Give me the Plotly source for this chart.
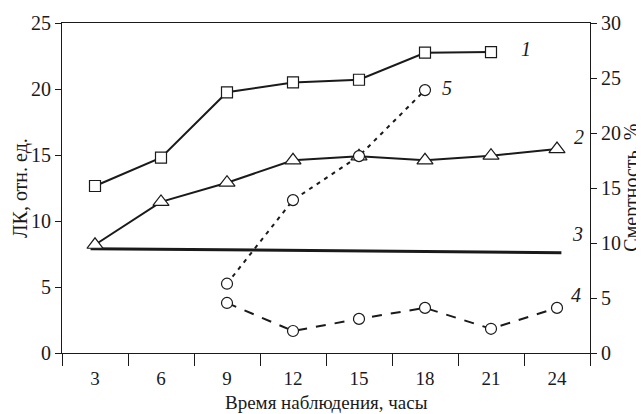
import plotly.graph_objects as go

# Data
hours_ticks = [3, 6, 9, 12, 15, 18, 21, 24]
tick_labels = ["3", "6", "9", "12", "15", "18", "21", "24"]

x1 = [3, 6, 9, 12, 15, 18, 21]
lk1 = [12.65, 14.8, 19.75, 20.5, 20.7, 22.75, 22.8]

x2 = [3, 6, 9, 12, 15, 18, 21, 24]
lk2 = [8.2, 11.45, 12.9, 14.6, 14.9, 14.6, 14.95, 15.45]

x3 = [2.8, 24.2]
lk3 = [7.9, 7.6]

x4 = [9, 12, 15, 18, 21, 24]
mort4 = [4.55, 2.0, 3.1, 4.1, 2.2, 4.1]

x5 = [9, 12, 15, 18]
mort5 = [6.3, 13.9, 17.9, 23.9]

FONT = "Liberation Serif"
INK = "#1a1a1a"
FS = 20
FSX = 19

fig = go.Figure()

fig.add_trace(go.Scatter(
    x=x3, y=lk3, mode="lines", line=dict(color=INK, width=3),
    yaxis="y", showlegend=False))

fig.add_trace(go.Scatter(
    x=x1, y=lk1, mode="lines+markers",
    line=dict(color=INK, width=2),
    marker=dict(symbol="square", size=11, color="white", line=dict(color=INK, width=1.2)),
    yaxis="y", showlegend=False))

fig.add_trace(go.Scatter(
    x=x2, y=lk2, mode="lines+markers",
    line=dict(color=INK, width=2),
    marker=dict(symbol="triangle-up", size=14, color="white", line=dict(color=INK, width=1.2)),
    yaxis="y", showlegend=False))

fig.add_trace(go.Scatter(
    x=x4, y=mort4, mode="lines+markers",
    line=dict(color=INK, width=2, dash="10px,9px"),
    marker=dict(symbol="circle", size=11, color="white", line=dict(color=INK, width=1.2)),
    yaxis="y2", showlegend=False))

fig.add_trace(go.Scatter(
    x=x5, y=mort5, mode="lines+markers",
    line=dict(color=INK, width=2, dash="4px,5px"),
    marker=dict(symbol="circle", size=11, color="white", line=dict(color=INK, width=1.2)),
    yaxis="y2", showlegend=False))

labels = [
    ("1", 22.25, 23.06, "y"),
    ("2", 24.7, 16.4, "y"),
    ("3", 24.6, 9.05, "y"),
    ("4", 24.55, 5.25, "y2"),
    ("5", 18.7, 24.1, "y2"),
]
annotations = []
for txt, ax_, ay_, yr in labels:
    annotations.append(dict(
        text="<i>" + txt + "</i>", x=ax_, y=ay_, xref="x", yref=yr,
        showarrow=False, xanchor="left", yanchor="middle",
        font=dict(family=FONT, size=FS, color=INK)))

# Axis titles
annotations.append(dict(
    text="Время наблюдения, часы", x=0.5, y=-0.1515, xref="paper", yref="paper",
    showarrow=False, xanchor="center", yanchor="middle",
    font=dict(family=FONT, size=FSX, color=INK)))
annotations.append(dict(
    text="ЛК, отн. ед.", x=-0.0795, y=0.5, xref="paper", yref="paper",
    showarrow=False, xanchor="center", yanchor="middle", textangle=-90,
    font=dict(family=FONT, size=FS, color=INK)))
annotations.append(dict(
    text="Смертность, %", x=1.077, y=0.5, xref="paper", yref="paper",
    showarrow=False, xanchor="center", yanchor="middle", textangle=-90,
    font=dict(family=FONT, size=FS, color=INK)))

# The page places the figure 8px in from the top-left corner, so the
# figure is sized to the visible area and margins are shifted accordingly.
fig.update_layout(
    width=636, height=406,
    margin=dict(l=54, r=54, t=15, b=61, autoexpand=False),
    paper_bgcolor="white", plot_bgcolor="white",
    font=dict(family=FONT, size=FS, color=INK),
    showlegend=False,
    annotations=annotations,
    xaxis=dict(
        range=[1.5, 25.5],
        tickvals=hours_ticks, ticktext=tick_labels,
        ticks="outside", ticklen=8, tickcolor="rgba(0,0,0,0)",
        minor=dict(ticks="outside", ticklen=12, tick0=1.5, dtick=3,
                   tickcolor=INK, tickwidth=1, showgrid=False),
        showline=True, linecolor=INK, linewidth=1, mirror=True,
        showgrid=False, zeroline=False, automargin=False,
        tickfont=dict(family=FONT, size=FSX, color=INK),
    ),
    yaxis=dict(
        range=[0, 25], tickvals=[0, 5, 10, 15, 20, 25],
        ticks="outside", ticklen=6, tickcolor=INK, tickwidth=1,
        showline=True, linecolor=INK, linewidth=1,
        showgrid=False, zeroline=False, automargin=False,
        tickfont=dict(family=FONT, size=FS, color=INK),
    ),
    yaxis2=dict(
        range=[0, 30], tickvals=[0, 5, 10, 15, 20, 25, 30],
        overlaying="y", side="right",
        ticks="outside", ticklen=6, tickcolor=INK, tickwidth=1,
        showline=True, linecolor=INK, linewidth=1,
        showgrid=False, zeroline=False, automargin=False,
        tickfont=dict(family=FONT, size=FS, color=INK),
    ),
)

fig.write_html("out.html")
